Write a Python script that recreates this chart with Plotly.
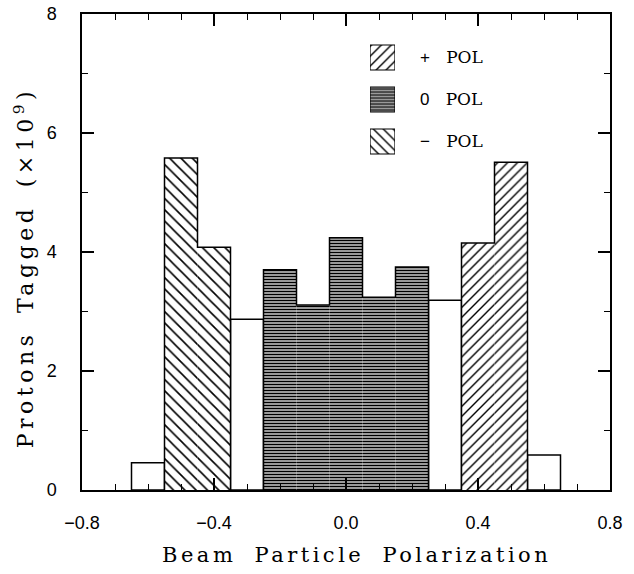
import plotly.graph_objects as go

# ---- data ----
bin_width = 0.1
minus_x = [-0.5, -0.4]
minus_y = [5.58, 4.08]
zero_x = [-0.2, -0.1, 0.0, 0.1, 0.2]
zero_y = [3.70, 3.11, 4.24, 3.24, 3.75]
plus_x = [0.4, 0.5]
plus_y = [4.15, 5.51]
other_x = [-0.6, -0.3, 0.3, 0.6]
other_y = [0.46, 2.87, 3.19, 0.59]

x_tick_vals = [-0.8, -0.4, 0.0, 0.4, 0.8]
y_tick_vals = [0, 2, 4, 6, 8]
y_range = [0, 8]

legend_signs = ["+", "0", "\u2212"]
legend_shapes = ["/", "-", "\\"]
legend_values = [1, 1, 1]

SANS = "Liberation Sans, Arial, sans-serif"
SERIF = "DejaVu Serif, serif"


def filled(x, y, shape, size, solidity):
    return go.Bar(x=x, y=y, width=bin_width, showlegend=False, hoverinfo="skip",
                  marker=dict(color="white", line=dict(width=0),
                              pattern=dict(shape=shape, fgcolor="black",
                                           bgcolor="white", size=size,
                                           solidity=solidity, fillmode="replace")))


def outline(x, y):
    # step outline of a group of adjacent bins, built from the bin data
    px, py = [], []
    left = x[0] - bin_width / 2
    px += [left, left]
    py += [0, y[0]]
    for i, (xc, yv) in enumerate(zip(x, y)):
        right = xc + bin_width / 2
        px.append(right)
        py.append(yv)
        nxt = y[i + 1] if i + 1 < len(y) else 0
        px.append(right)
        py.append(nxt)
    return go.Scatter(x=px, y=py, mode="lines", showlegend=False, hoverinfo="skip",
                      line=dict(color="black", width=1.5))


fig = go.Figure()
fig.add_trace(go.Bar(x=other_x, y=other_y, width=bin_width, showlegend=False,
                     hoverinfo="skip",
                     marker=dict(color="white", line=dict(color="black", width=1.5))))
fig.add_trace(filled(minus_x, minus_y, "\\", 8, 0.2))
fig.add_trace(filled(zero_x, zero_y, "-", 3, 0.6))
fig.add_trace(filled(plus_x, plus_y, "/", 7, 0.2))
fig.add_trace(outline(minus_x, minus_y))
fig.add_trace(outline(zero_x, zero_y))
fig.add_trace(outline(plus_x, plus_y))

# legend swatches drawn as an inset bar chart
legend_labels = [
    '<span style="font-family:Liberation Sans">%s</span>\u00a0\u00a0\u00a0POL' % s
    for s in legend_signs
]
fig.add_trace(go.Bar(
    x=legend_values, y=legend_labels, orientation="h", width=0.595,
    xaxis="x2", yaxis="y2", showlegend=False, hoverinfo="skip",
    marker=dict(color="white", line=dict(color="black", width=1.2),
                pattern=dict(shape=legend_shapes, fgcolor="black", bgcolor="white",
                             size=[7, 3, 7], solidity=[0.2, 0.6, 0.2],
                             fillmode="replace")),
))

axis_common = dict(
    showline=True, linecolor="black", linewidth=1.5, mirror="ticks",
    ticks="inside", ticklen=12, tickwidth=1.5, tickcolor="black",
    showgrid=False, zeroline=False, automargin=False,
    ticklabeloverflow="allow",
    tickfont=dict(family=SANS, size=18, color="black"),
)
y_minor = dict(dtick=1, ticks="inside", ticklen=6, tickwidth=1.2, tickcolor="black")

fig.update_layout(
    width=634, height=574, autosize=False,
    margin=dict(l=82, r=24, t=14, b=84, autoexpand=False),
    paper_bgcolor="white", plot_bgcolor="white",
    barmode="overlay",
    xaxis=dict(range=[-0.8, 0.8], tickvals=x_tick_vals, tickformat=".1f",
               ticklabelstandoff=16,
               minor=dict(dtick=0.1, ticks="inside", ticklen=6, tickwidth=1.2,
                          tickcolor="black"),
               **axis_common),
    yaxis=dict(range=y_range, tickvals=y_tick_vals, ticklabelstandoff=20,
               minor=y_minor, **axis_common),
    xaxis2=dict(domain=[0.5455, 0.5928], range=[0, 1], anchor="y2",
                visible=False, fixedrange=True, automargin=False),
    yaxis2=dict(domain=[0.688, 0.9527], anchor="x2", type="category",
                autorange="reversed", side="right", showline=False, ticks="",
                showgrid=False, zeroline=False, ticklabelstandoff=24,
                automargin=False,
                tickfont=dict(family=SERIF, size=17, color="black")),
    annotations=[
        dict(text='<span style="letter-spacing:3.5px;word-spacing:8px">'
                  'Beam Particle Polarization</span>',
             xref="paper", yref="paper", x=0.5208, y=-0.1366,
             xanchor="center", yanchor="middle", showarrow=False,
             font=dict(family=SERIF, size=21, color="black")),
        dict(text='<span style="letter-spacing:4.5px;word-spacing:6px">'
                  'Protons Tagged (\u00d710<sup>9</sup>)</span>',
             xref="paper", yref="paper", x=-0.1098, y=0.466,
             xanchor="center", yanchor="middle", textangle=-90, showarrow=False,
             font=dict(family=SERIF, size=22, color="black")),
    ],
)

fig.write_html("out.html")
